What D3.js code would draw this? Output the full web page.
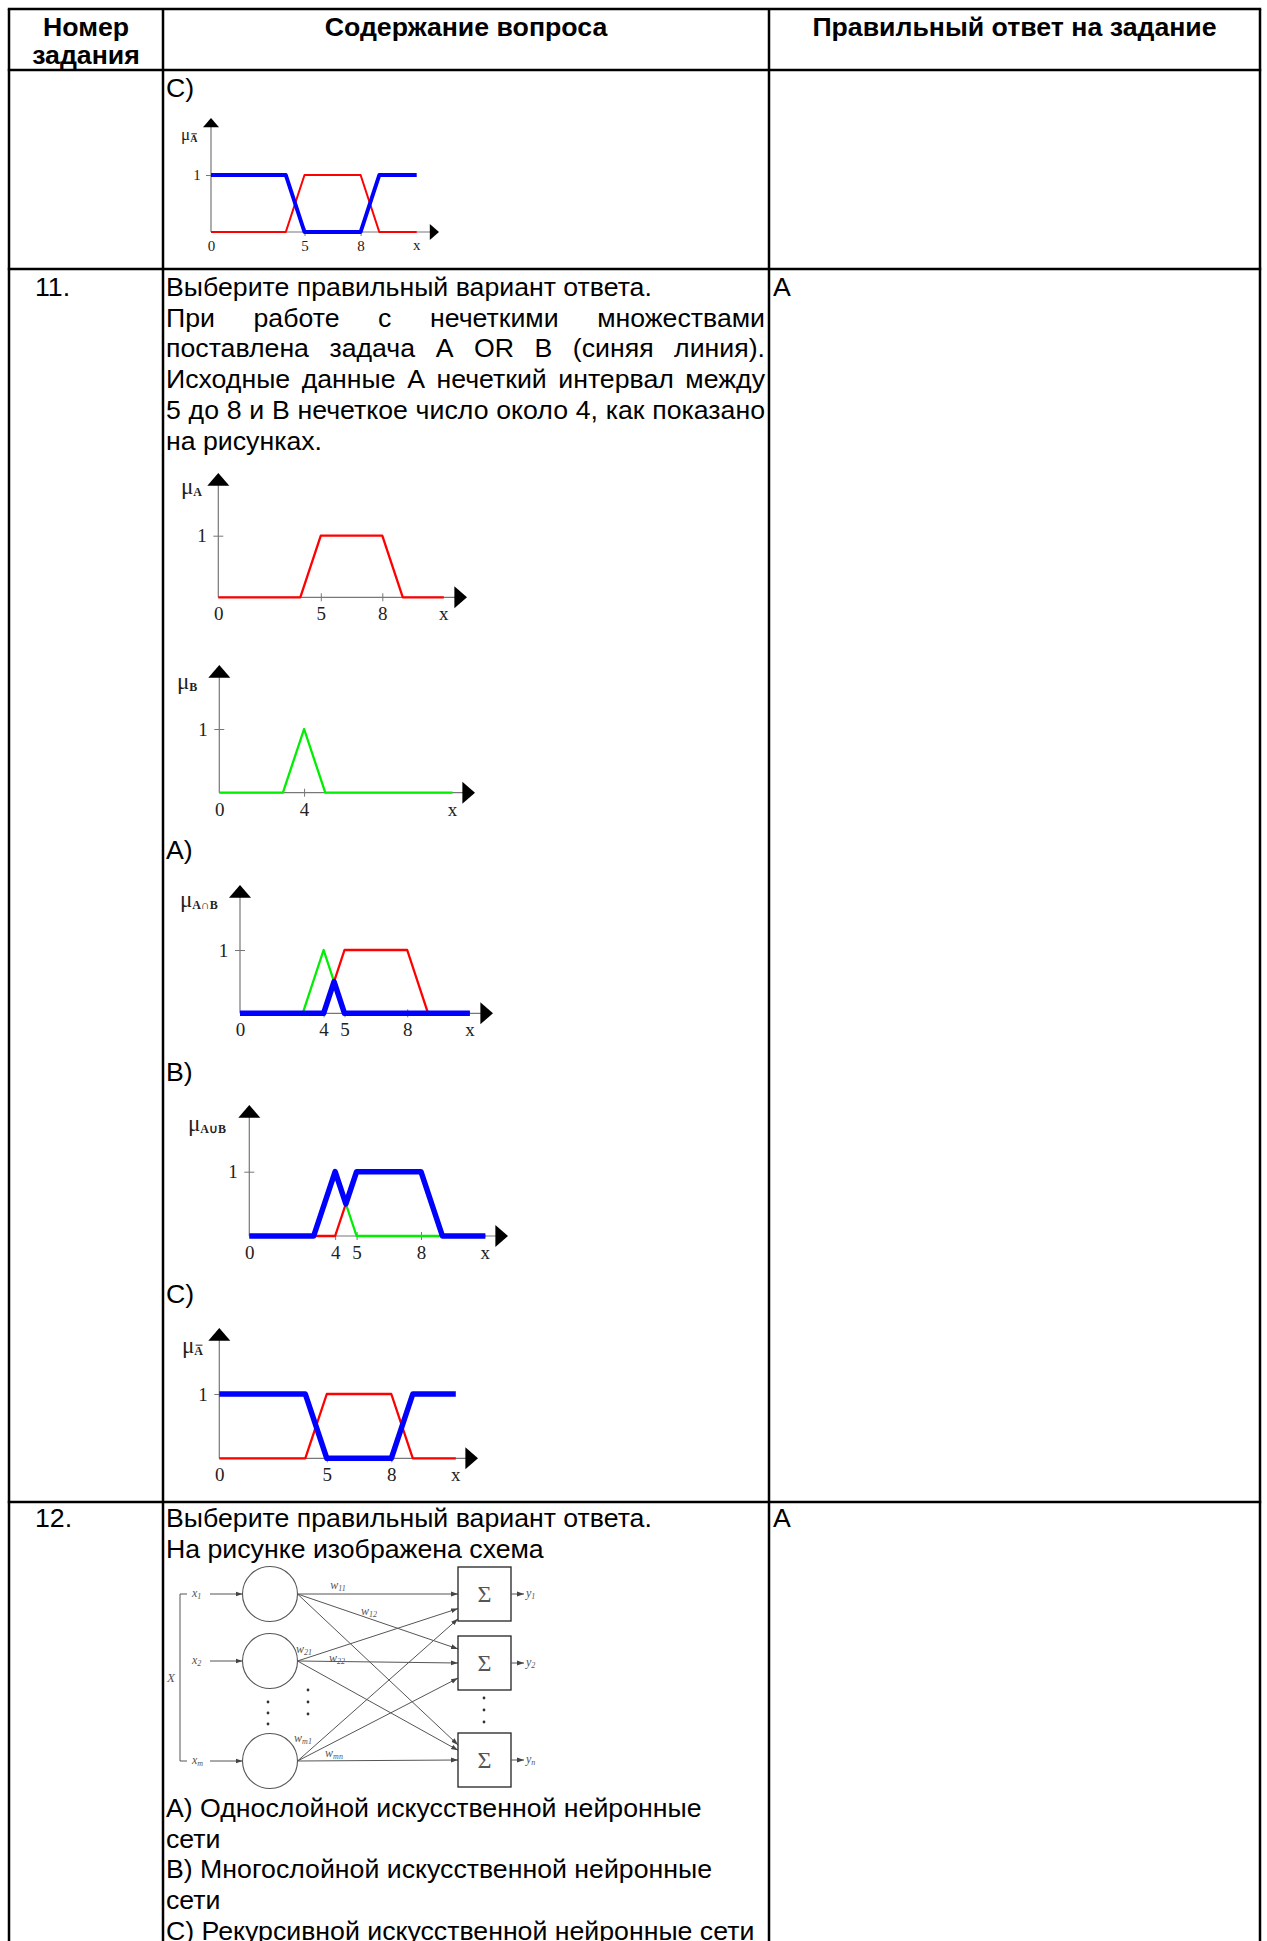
<!DOCTYPE html>
<html>
<head>
<meta charset="utf-8">
<script src="https://d3js.org/d3.v7.min.js"></script>
<style>
  body { margin: 0; background: #fff; }
  svg text { font-family: "Liberation Sans", Arial, sans-serif; }
  .txt { font-size: 26.7px; fill: #000; }
  .hdr { font-size: 26.7px; font-weight: bold; fill: #000; }
  .fz text { font-family: "Liberation Serif", "Times New Roman", serif; fill: #222; }
  .nn text { font-family: "Liberation Serif", "Times New Roman", serif; fill: #555; }
</style>
</head>
<body>
<svg width="1267" height="1941"></svg>
<script>
// membership functions, (x, mu) pairs
const muA     = [[0,0],[4,0],[5,1],[8,1],[9,0],[11,0]];
const muB     = [[0,0],[3,0],[4,1],[5,0],[11,0]];
const muNotA  = [[0,1],[4,1],[5,0],[8,0],[9,1],[11,1]];
const muAandB = [[0,0],[4,0],[4.5,0.5],[5,0],[11,0]];
const muAorB  = [[0,0],[3,0],[4,1],[4.5,0.5],[5,1],[8,1],[9,0],[11,0]];

const ticks58 = [0,5,8];
const ticks4 = [0,4];
const ticks458 = [0,4,5,8];

const headers = ["Содержание вопроса", "Правильный ответ на задание"];
const q11 = [
  "Выберите правильный вариант ответа.",
  "При работе с нечеткими множествами",
  "поставлена задача A OR B (синяя линия).",
  "Исходные данные  A нечеткий интервал между",
  "5 до 8 и В нечеткое число около 4, как показано",
  "на рисунках."
];
const q12 = ["Выберите правильный вариант ответа.", "На рисунке изображена схема"];
const q12opts = [
  "A) Однослойной искусственной нейронные",
  "сети",
  "B) Многослойной искусственной нейронные",
  "сети",
  "C) Рекурсивной искусственной нейронные сети"
];

const RED = "#ff0000", GREEN = "#00ee00", BLUE = "#0000ff";

const svg = d3.select("svg");
svg.append("rect").attr("width", 1267).attr("height", 1941).attr("fill", "#fff");

// table grid
const colX = [9, 163, 769, 1260];
const rowY = [9, 70, 269, 1502];
const grid = svg.append("g").attr("stroke", "#000").attr("stroke-width", 2.5);
colX.forEach(x => grid.append("line").attr("x1", x).attr("x2", x).attr("y1", rowY[0]).attr("y2", 1941));
rowY.forEach(y => grid.append("line").attr("x1", colX[0] - 1.2).attr("x2", colX[3] + 1.2).attr("y1", y).attr("y2", y));

// header
const hc = (a, b) => (colX[a] + colX[b]) / 2;
svg.append("text").attr("class", "hdr").attr("x", hc(0,1)).attr("y", 36).attr("text-anchor", "middle").text("Номер");
svg.append("text").attr("class", "hdr").attr("x", hc(0,1)).attr("y", 64).attr("text-anchor", "middle").text("задания");
svg.append("text").attr("class", "hdr").attr("x", hc(1,2)).attr("y", 36).attr("text-anchor", "middle").text(headers[0]);
svg.append("text").attr("class", "hdr").attr("x", hc(2,3)).attr("y", 36).attr("text-anchor", "middle").text(headers[1]);

// text helpers
function line(s, x, y) {
  return svg.append("text").attr("class", "txt").attr("x", x).attr("y", y).text(s);
}
function justified(s, x0, x1, y) {
  const words = s.split(" ").filter(w => w.length);
  const els = words.map(w => line(w, 0, y));
  const widths = els.map(e => e.node().getComputedTextLength());
  const gap = (x1 - x0 - d3.sum(widths)) / (words.length - 1);
  let x = x0;
  els.forEach((e, i) => { e.attr("x", x); x += widths[i] + gap; });
}

const tx = 166, txEnd = 765, lh = 30.7;

// row 10 (continued)
line("C)", tx, 97);

// row 11
line("11.", 35, 296);
line("A", colX[2] + 4, 296);
q11.forEach((s, i) => {
  const y = 296 + i * lh;
  if (i === 0 || i === q11.length - 1) line(s, tx, y);
  else justified(s, tx, txEnd, y);
});
line("A)", tx, 859);
line("B)", tx, 1081);
line("C)", tx, 1303);

// row 12
line("12.", 35, 1527);
line("A", colX[2] + 4, 1527);
q12.forEach((s, i) => line(s, tx, 1527 + i * lh));
q12opts.forEach((s, i) => line(s, tx, 1817 + i * lh));

// fuzzy membership charts
const charts = [
  { ox: 211, oy: 232, ux: 18.7, uy: 57, top: 118, end: 439, fs: 15, ah: 8,
    ticks: ticks58, lx: 181, ly: 140, mfs: 17, sub: "A", bar: true, sfs: 10,
    series: [[muA, RED, 2], [muNotA, BLUE, 4]] },
  { ox: 218.3, oy: 597.3, ux: 20.5, uy: 61.6, top: 473, end: 467, fs: 19, ah: 11,
    ticks: ticks58, lx: 181, ly: 494, mfs: 23, sub: "A", sfs: 12,
    series: [[muA, RED, 2.3]] },
  { ox: 219.3, oy: 792.7, ux: 21.2, uy: 63.7, top: 665, end: 475, fs: 19, ah: 11,
    ticks: ticks4, lx: 177, ly: 689, mfs: 23, sub: "B", sfs: 12,
    series: [[muB, GREEN, 2.3]] },
  { ox: 240, oy: 1013.3, ux: 20.9, uy: 63.3, top: 885, end: 493, fs: 19, ah: 11,
    ticks: ticks458, lx: 180, ly: 907, mfs: 23, sub: "A∩B", sfs: 12,
    series: [[muB, GREEN, 2.3], [muA, RED, 2.3], [muAandB, BLUE, 5.5]] },
  { ox: 249.3, oy: 1236, ux: 21.46, uy: 64.3, top: 1105, end: 508, fs: 19, ah: 11,
    ticks: ticks458, lx: 188, ly: 1131, mfs: 23, sub: "A∪B", sfs: 12,
    series: [[muA, RED, 2.3], [muB, GREEN, 2.3], [muAorB, BLUE, 5.5]] },
  { ox: 219.3, oy: 1458.3, ux: 21.5, uy: 64.3, top: 1328, end: 478, fs: 19, ah: 11,
    ticks: ticks58, lx: 182, ly: 1353, mfs: 23, sub: "A", bar: true, sfs: 12,
    series: [[muA, RED, 2.3], [muNotA, BLUE, 5.5]] }
];

charts.forEach(c => {
  const g = svg.append("g").attr("class", "fz");
  const x = d3.scaleLinear().domain([0, 11]).range([c.ox, c.ox + 11 * c.ux]);
  const y = d3.scaleLinear().domain([0, 1]).range([c.oy, c.oy - c.uy]);

  // axis lines
  g.append("line").attr("x1", c.ox).attr("x2", c.ox).attr("y1", c.oy).attr("y2", c.top + c.ah)
    .attr("stroke", "#777").attr("stroke-width", 1.2);
  g.append("line").attr("x1", c.ox).attr("x2", c.end - c.ah).attr("y1", c.oy).attr("y2", c.oy)
    .attr("stroke", "#777").attr("stroke-width", 1.2);
  g.append("path").attr("fill", "#000")
    .attr("d", `M${c.ox},${c.top}L${c.ox - c.ah},${c.top + c.ah * 1.15}L${c.ox + c.ah},${c.top + c.ah * 1.15}Z`);
  g.append("path").attr("fill", "#000")
    .attr("d", `M${c.end},${c.oy}L${c.end - c.ah * 1.15},${c.oy - c.ah}L${c.end - c.ah * 1.15},${c.oy + c.ah}Z`);

  // ticks
  const xa = g.append("g").attr("transform", `translate(0,${c.oy})`)
    .call(d3.axisBottom(x).tickValues(c.ticks).tickSize(4).tickPadding(c.fs * 0.3).tickFormat(d3.format("d")));
  xa.select(".domain").remove();
  xa.selectAll(".tick line").attr("y1", -4).attr("stroke", "#777").filter(d => d === 0).remove();
  xa.selectAll(".tick text").attr("font-size", c.fs).attr("fill", "#222");
  const ya = g.append("g").attr("transform", `translate(${c.ox},0)`)
    .call(d3.axisLeft(y).tickValues([1]).tickSize(5).tickPadding(c.fs * 0.35).tickFormat(d3.format("d")));
  ya.select(".domain").remove();
  ya.selectAll(".tick line").attr("x1", 5).attr("stroke", "#777");
  ya.selectAll(".tick text").attr("font-size", c.fs).attr("fill", "#222");
  g.append("text").attr("x", x(11)).attr("y", c.oy + c.fs * 1.2).attr("text-anchor", "middle")
    .attr("font-size", c.fs).text("x");

  // mu label
  const t = g.append("text").attr("x", c.lx).attr("y", c.ly).attr("font-size", c.mfs);
  t.append("tspan").text("μ");
  const sub = t.append("tspan").attr("font-size", c.sfs).attr("font-weight", "bold").attr("dy", 2).text(c.sub);
  if (c.bar) {
    const bb = sub.node().getBBox ? t.node().getBBox() : null;
    const mw = c.mfs * 0.55;
    g.append("line").attr("x1", c.lx + mw + 1).attr("x2", c.lx + mw + c.sfs * 0.65)
      .attr("y1", c.ly + 2 - c.sfs * 0.82).attr("y2", c.ly + 2 - c.sfs * 0.82)
      .attr("stroke", "#222").attr("stroke-width", 1);
  }

  // membership lines
  const ln = d3.line().x(d => x(d[0])).y(d => y(d[1]));
  c.series.forEach(([data, col, w]) => {
    g.append("path").attr("d", ln(data)).attr("fill", "none")
      .attr("stroke", col).attr("stroke-width", w).attr("stroke-linejoin", "round");
  });
});

// single-layer network diagram
const nnIn = ["1", "2", "m"];
const nnOut = ["1", "2", "n"];
const nnEnd = [          // where each link meets the output box (fraction of box height)
  [0.50, 0.24, 0.22],
  [0.77, 0.50, 0.32],
  [0.96, 0.78, 0.50]
];
const nnW = [["11", 338, 1586], ["12", 369, 1612], ["21", 304, 1650],
             ["22", 337, 1659], ["m1", 303, 1739], ["mn", 334, 1754]];

const nn = svg.append("g").attr("class", "nn");
nn.append("defs").append("marker").attr("id", "ah").attr("viewBox", "0 0 10 10")
  .attr("refX", 10).attr("refY", 5).attr("markerWidth", 7).attr("markerHeight", 7)
  .attr("markerUnits", "userSpaceOnUse").attr("orient", "auto")
  .append("path").attr("d", "M0,1.5L10,5L0,8.5Z").attr("fill", "#444");

const cx = 270, cr = 27.5, cys = [1594, 1661, 1761];
const bx = 458, bw = 53, bh = 54, bys = [1594, 1663, 1760];

cys.forEach((cy, i) => {
  nn.append("circle").attr("cx", cx).attr("cy", cy).attr("r", cr)
    .attr("fill", "none").attr("stroke", "#555").attr("stroke-width", 1.1);
  nn.append("line").attr("x1", 210).attr("x2", cx - cr).attr("y1", cy).attr("y2", cy)
    .attr("stroke", "#555").attr("stroke-width", 1).attr("marker-end", "url(#ah)");
  const t = nn.append("text").attr("x", 192).attr("y", cy + 3).attr("font-size", 12).attr("font-style", "italic");
  t.append("tspan").text("x");
  t.append("tspan").attr("font-size", 8).attr("dy", 2).text(nnIn[i]);
  bys.forEach((by, j) => {
    nn.append("line").attr("x1", cx + cr).attr("y1", cy)
      .attr("x2", bx).attr("y2", by - bh / 2 + nnEnd[i][j] * bh)
      .attr("stroke", "#555").attr("stroke-width", 1).attr("marker-end", "url(#ah)");
  });
});

bys.forEach((by, j) => {
  nn.append("rect").attr("x", bx).attr("y", by - bh / 2).attr("width", bw).attr("height", bh)
    .attr("fill", "#fff").attr("stroke", "#222").attr("stroke-width", 1.3);
  nn.append("text").attr("x", bx + bw / 2).attr("y", by + 8).attr("text-anchor", "middle")
    .attr("font-size", 24).attr("fill", "#333").text("Σ");
  nn.append("line").attr("x1", bx + bw).attr("x2", bx + bw + 13).attr("y1", by).attr("y2", by)
    .attr("stroke", "#555").attr("stroke-width", 1).attr("marker-end", "url(#ah)");
  const t = nn.append("text").attr("x", bx + bw + 15).attr("y", by + 3).attr("font-size", 12).attr("font-style", "italic");
  t.append("tspan").text("y");
  t.append("tspan").attr("font-size", 8).attr("dy", 2).text(nnOut[j]);
});

// bracket for the input vector X
nn.append("path").attr("d", `M187,${cys[0]}H180V${cys[2]}H187`)
  .attr("fill", "none").attr("stroke", "#555").attr("stroke-width", 1);
nn.append("text").attr("x", 167).attr("y", 1682).attr("font-size", 13).attr("font-style", "italic").text("X");

nnW.forEach(([s, x, y]) => {
  const t = nn.append("text").attr("x", x).attr("y", y + 3).attr("text-anchor", "middle")
    .attr("font-size", 12).attr("font-style", "italic");
  t.append("tspan").text("w");
  t.append("tspan").attr("font-size", 8).attr("dy", 2).text(s);
});

// dots
const dots = [[268, [1702, 1713, 1724]], [308, [1690, 1702, 1714]], [484, [1698, 1710, 1722]]];
dots.forEach(([x, ys]) => ys.forEach(y =>
  nn.append("circle").attr("cx", x).attr("cy", y).attr("r", 1.4).attr("fill", "#333")));
</script>
</body>
</html>
